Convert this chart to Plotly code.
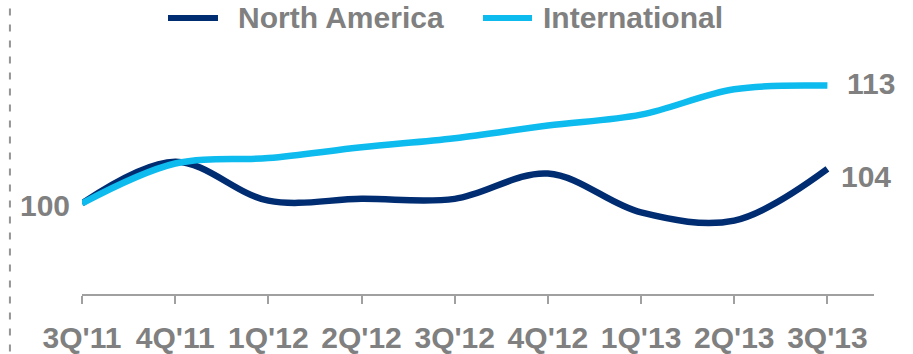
import plotly.graph_objects as go

quarters = ["3Q'11", "4Q'11", "1Q'12", "2Q'12", "3Q'12", "4Q'12", "1Q'13", "2Q'13", "3Q'13"]
north_america = [100, 104.6, 100.3, 100.5, 100.5, 103.3, 99.0, 98.1, 103.8]
international = [100, 104.4, 105.0, 106.2, 107.2, 108.6, 109.8, 112.6, 113.0]
series_names = ["North America", "International"]

NAVY = "#002C72"
LIGHT = "#0DBBEE"
GRAY = "#808080"
FONT = "Liberation Sans, Arial, sans-serif"
FS = 30

xi = list(range(len(quarters)))

fig = go.Figure()
fig.add_trace(go.Scatter(x=xi, y=north_america, name=series_names[0], mode="lines", showlegend=False,
                         line=dict(color=NAVY, width=6.5, shape="spline", smoothing=1)))
fig.add_trace(go.Scatter(x=xi, y=international, name=series_names[1], mode="lines", showlegend=False,
                         line=dict(color=LIGHT, width=6.5, shape="spline", smoothing=1)))

lab_font = dict(family=FONT, size=FS, color=GRAY, weight="bold")
fig.add_annotation(x=xi[0], y=north_america[0], text=f"{north_america[0]:.0f}", showarrow=False,
                   xanchor="right", xshift=-10, yshift=-2, font=lab_font)
fig.add_annotation(x=xi[-1], y=international[-1], text=f"{international[-1]:.0f}", showarrow=False,
                   xanchor="left", xshift=18, yshift=2, font=lab_font)
fig.add_annotation(x=xi[-1], y=north_america[-1], text=f"{north_america[-1]:.0f}", showarrow=False,
                   xanchor="left", xshift=12, yshift=-8, font=lab_font)

# legend (drawn manually to match the sample line lengths and spacing)
leg_y = 0.939
for (x0, x1, tx), col, name in zip([(0.1086, 0.1717, 0.1944), (0.5063, 0.5682, 0.5795)],
                                   [NAVY, LIGHT], series_names):
    fig.add_shape(type="line", xref="paper", yref="paper", x0=x0, x1=x1, y0=leg_y, y1=leg_y,
                  line=dict(color=col, width=6))
    fig.add_annotation(xref="paper", yref="paper", x=tx, y=leg_y, text=name, showarrow=False,
                       xanchor="left", yanchor="middle", font=lab_font)

fig.add_shape(type="line", xref="paper", yref="paper", x0=-0.091, x1=-0.091, y0=-0.25, y1=1.05,
              line=dict(color="#949494", width=2, dash="7px,9px"))

fig.update_layout(
    width=913, height=354,
    margin=dict(l=82, r=39, t=0, b=57),
    plot_bgcolor="white", paper_bgcolor="white",
    showlegend=False,
    xaxis=dict(range=[0, 8.5], tickmode="array", tickvals=xi, ticktext=quarters,
               showline=True, linecolor="#A0A0A0", linewidth=2, ticks="outside",
               ticklen=8, tickwidth=2, tickcolor="#A0A0A0", showgrid=False, zeroline=False,
               ticklabelstandoff=8,
               tickfont=lab_font),
    yaxis=dict(range=[90, 122.45], visible=False, showgrid=False, zeroline=False),
)

fig.write_html("out.html")
